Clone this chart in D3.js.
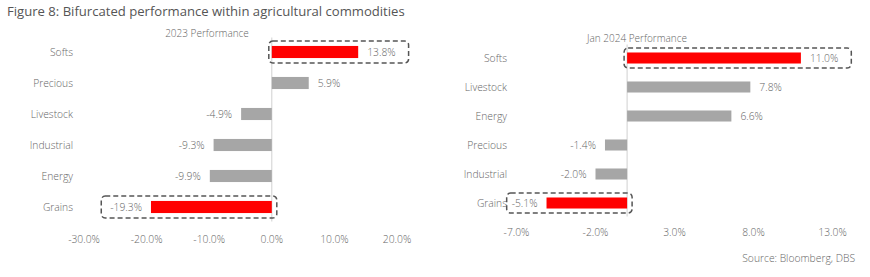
<!DOCTYPE html>
<html><head><meta charset="utf-8">
<script src="https://cdn.jsdelivr.net/npm/d3@7"></script>
<style>
body{margin:0;background:#fff;}
text{font-family:"Open Sans",sans-serif;font-weight:300;}
</style></head>
<body><svg id="c" width="870" height="277"></svg>
<script>
const leftCategories = ["Softs","Precious","Livestock","Industrial","Energy","Grains"];
const leftValues = [13.8, 5.9, -4.9, -9.3, -9.9, -19.3];
const leftTicks = [-30,-20,-10,0,10,20];
const leftHighlight = ["Softs","Grains"];

const rightCategories = ["Softs","Livestock","Energy","Precious","Industrial","Grains"];
const rightValues = [11.0, 7.8, 6.6, -1.4, -2.0, -5.1];
const rightTicks = [-7,-2,3,8,13];
const rightHighlight = ["Softs","Grains"];

const svg = d3.select("#c");
const txt = "#666";

svg.append("text").attr("x",7).attr("y",16).attr("font-size",13.1).attr("fill","#555")
  .style("font-weight",400)
  .text("Figure 8: Bifurcated performance within agricultural commodities");
svg.append("text").attr("x",855).attr("y",262).attr("text-anchor","end").attr("font-size",10.3).attr("fill",txt)
  .text("Source: Bloomberg, DBS");

function panel(o){
  const g = svg.append("g");
  const x = d3.scaleLinear().domain(o.domain).range(o.xr);
  const y = d3.scaleBand().domain(o.cats).range(o.yr).paddingInner(o.pi).paddingOuter(o.pi/2);
  g.append("text").attr("x",o.titleX).attr("y",o.titleY).attr("text-anchor","middle")
    .attr("font-size",10).attr("fill",txt).text(o.title);
  g.append("line").attr("x1",x(0)).attr("x2",x(0)).attr("y1",o.yr[0]+1).attr("y2",o.yr[1]-1)
    .attr("stroke","#d0d0d0").attr("stroke-width",1);
  g.selectAll(".tk").data(o.ticks).join("text").attr("x",d=>x(d)).attr("y",o.tickY)
    .attr("text-anchor","middle").attr("font-size",10.3).attr("fill",txt)
    .text(d=>d.toFixed(1)+"%");
  g.selectAll(".cl").data(o.cats).join("text").attr("x",o.catX).attr("y",d=>y(d)+y.bandwidth()/2)
    .attr("dy","0.35em").attr("text-anchor","end").attr("font-size",10.3).attr("fill",txt).text(d=>d);
  const data = o.cats.map((c,i)=>({c,v:o.vals[i]}));
  const labels = g.selectAll(".vl").data(data).join("text")
    .attr("x",d=>d.v>=0? x(d.v)+9 : x(d.v)-9)
    .attr("y",d=>y(d.c)+y.bandwidth()/2).attr("dy","0.35em")
    .attr("text-anchor",d=>d.v>=0?"start":"end").attr("font-size",10.3).attr("fill",txt)
    .text(d=>d.v.toFixed(1)+"%");
  g.selectAll(".bar").data(data).join("rect")
    .attr("x",d=>x(Math.min(0,d.v))).attr("width",d=>Math.abs(x(d.v)-x(0)))
    .attr("y",d=>y(d.c)).attr("height",y.bandwidth())
    .attr("fill",d=>o.hl.includes(d.c)?"#ff0000":"#a6a6a6");
  labels.each(function(d){
    if(!o.hl.includes(d.c)) return;
    const bb = this.getBBox();
    let x0,x1;
    if(d.v>=0){ x0 = x(0)-3; x1 = bb.x+bb.width+13; }
    else { x0 = bb.x-o.negPad; x1 = x(0)+5; }
    const yc = y(d.c)+y.bandwidth()/2;
    g.append("rect").attr("x",x0).attr("y",yc-o.bh).attr("width",x1-x0).attr("height",o.bh*2)
      .attr("rx",4).attr("fill","none").attr("stroke","#555").attr("stroke-width",1.5)
      .attr("stroke-dasharray","5,3");
  });
}

panel({cats:leftCategories, vals:leftValues, ticks:leftTicks, hl:leftHighlight,
  domain:[-30,20], xr:[84,397], yr:[36.5,222.5], pi:0.61, negPad:9,
  title:"2023 Performance", titleX:207, titleY:37, tickY:243, catX:73, bh:11});
panel({cats:rightCategories, vals:rightValues, ticks:rightTicks, hl:rightHighlight,
  domain:[-7,13], xr:[516.5,832.5], yr:[43.5,217.5], pi:0.62, negPad:5,
  title:"Jan 2024 Performance", titleX:637, titleY:42, tickY:236, catX:507, bh:10});
</script></body></html>
